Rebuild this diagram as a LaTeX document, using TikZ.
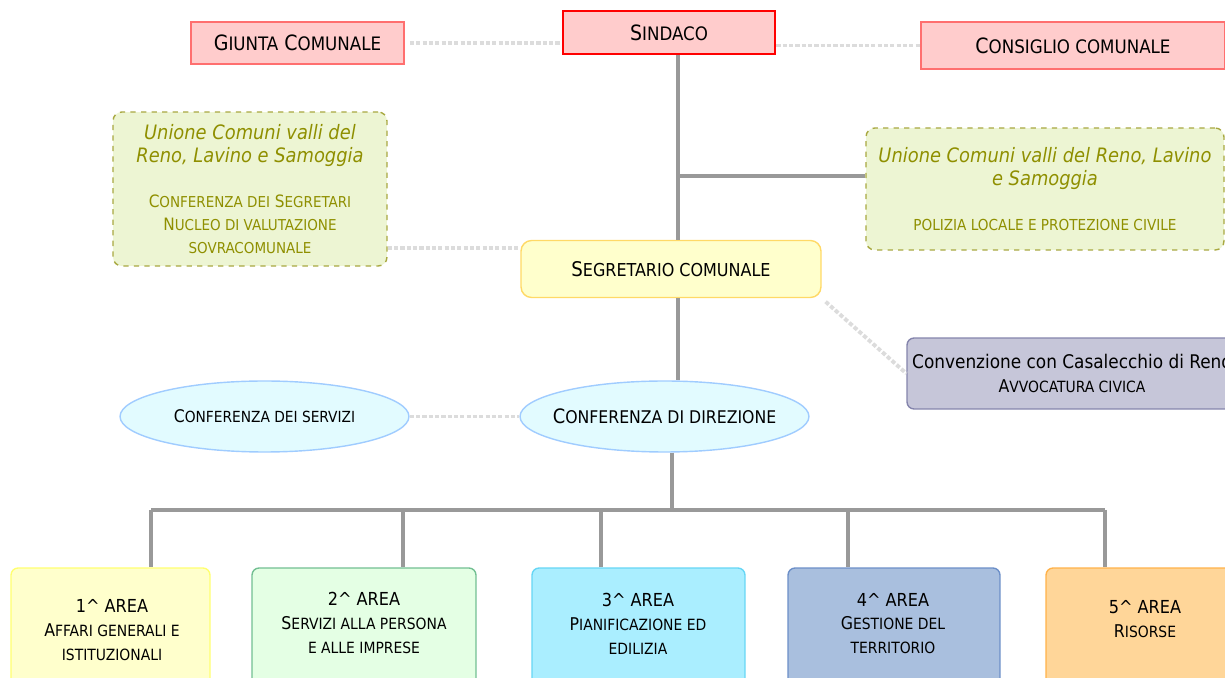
\documentclass[tikz,border=0pt]{standalone}
\usepackage{fontspec}
\usepackage{graphicx}
\usepackage{tikz}
\setmainfont{DejaVu Sans Condensed}
\definecolor{rosa}{HTML}{FFCCCC}
\definecolor{rosabordo}{HTML}{FF6F6F}
\definecolor{rosso}{HTML}{FF0000}
\definecolor{oliva}{HTML}{8F8F00}
\definecolor{olivabordo}{HTML}{A8A840}
\definecolor{unione}{HTML}{EDF5D3}
\definecolor{giallo}{HTML}{FFFFCC}
\definecolor{giallobordo}{HTML}{FFD966}
\definecolor{lilla}{HTML}{C6C6D9}
\definecolor{lillabordo}{HTML}{8484AC}
\definecolor{celeste}{HTML}{E2FBFF}
\definecolor{celestebordo}{HTML}{A0CCFF}
\definecolor{giallodue}{HTML}{FFFF70}
\definecolor{verde}{HTML}{E4FFE4}
\definecolor{verdebordo}{HTML}{72BF92}
\definecolor{ciano}{HTML}{AAEEFF}
\definecolor{cianobordo}{HTML}{66D6F5}
\definecolor{blu}{HTML}{A9BFDE}
\definecolor{blubordo}{HTML}{6C8FC8}
\definecolor{arancio}{HTML}{FFD699}
\definecolor{aranciobordo}{HTML}{FFB24A}
\definecolor{linea}{HTML}{999999}
\definecolor{punti}{HTML}{DCDCDC}
\usetikzlibrary{shapes.geometric,calc}

\newcommand{\smc}[1]{\scalebox{0.88}{\MakeUppercase{#1}}}

\begin{document}
\begin{tikzpicture}[x=0.02cm,y=-0.02cm,
  box/.style={rectangle,inner sep=0pt,align=center},
  grande/.style={font=\fontsize{12}{14}\selectfont},
  tratto/.style={draw=linea,line width=2pt},
  puntini/.style={draw=punti,line width=2.2pt,dash pattern=on 2.4pt off 1.2pt},
  nuvola/.style={ellipse,inner sep=0pt,minimum width=5.78cm,minimum height=1.42cm,
    fill=celeste,draw=celestebordo,line width=0.8pt},
  area/.style={box,rounded corners=4pt,line width=0.8pt,minimum height=2.64cm},
  arealabel/.style={align=center,font=\fontsize{10}{13.6}\selectfont}]
  \clip (0,0) rectangle (1225,678);

  % vertice
  \node[
    box,
    minimum width=4.26cm,
    minimum height=0.84cm,
    fill=rosa,
    draw=rosabordo,
    line width=0.8pt,
    grande] at (297.5,43) (giunta) {G\smc{iunta} C\smc{omunale}};

  \node[
    box,
    minimum width=4.24cm,
    minimum height=0.86cm,
    fill=rosa,
    draw=rosso,
    line width=1.6pt,
    grande] at (669,32.5) (sindaco) {S\smc{indaco}};

  \node[
    box,
    minimum width=6.08cm,
    minimum height=0.94cm,
    fill=rosa,
    draw=rosabordo,
    line width=0.8pt,
    grande] at (1073,45.5) (consiglio) {C\smc{onsiglio comunale}};

  % unioni
  \node[
    box,
    minimum width=5.48cm,
    minimum height=3.08cm,
    fill=unione,
    draw=olivabordo,
    dashed,
    rounded corners=5pt,
    line width=0.8pt,
    text=oliva,
    font=\fontsize{11.3}{13}\selectfont] at (250,189) (unioneL)
    {\textit{Unione Comuni valli del}\\\textit{Reno, Lavino e Samoggia}\\[13pt]
     {\fontsize{9.7}{13}\selectfont C\smc{onferenza dei} S\smc{egretari}}\\
     {\fontsize{9.7}{13}\selectfont N\smc{ucleo di valutazione}}\\
     {\fontsize{9.7}{13}\selectfont\smc{sovracomunale}}};

  \node[
    box,
    minimum width=7.16cm,
    minimum height=2.44cm,
    fill=unione,
    draw=olivabordo,
    dashed,
    rounded corners=5pt,
    line width=0.8pt,
    text=oliva,
    font=\fontsize{11.3}{13}\selectfont] at (1045,189) (unioneR)
    {\textit{Unione Comuni valli del Reno, Lavino}\\\textit{e Samoggia}\\[13pt]
     {\fontsize{9.8}{13}\selectfont\smc{polizia locale e protezione civile}}};

  % segretario
  \node[
    box,
    minimum width=6cm,
    minimum height=1.14cm,
    fill=giallo,
    draw=giallobordo,
    rounded corners=6pt,
    line width=0.8pt,
    font=\fontsize{11.5}{14}\selectfont] at (671,269) (segretario) {S\smc{egretario comunale}};

  \node[
    box,
    minimum width=6.6cm,
    minimum height=1.42cm,
    fill=lilla,
    draw=lillabordo,
    rounded corners=4pt,
    line width=0.8pt,
    font=\fontsize{10.7}{13.6}\selectfont] at (1072,373.5) (convenzione)
    {Convenzione con Casalecchio di Reno\\
     {\fontsize{10}{13.6}\selectfont A\smc{vvocatura civica}}};

  % conferenze
  \node[nuvola] at (264.5,416.5) (servizi) {};
  \node[font=\fontsize{9.9}{11}\selectfont] at (servizi.center) (servizil) {C\smc{onferenza dei servizi}};

  \node[nuvola] at (664.5,416.5) (direzione) {};
  \node[font=\fontsize{11.3}{14}\selectfont] at (direzione.center) (direzionel) {C\smc{onferenza di direzione}};

  % aree
  \node[area,minimum width=3.98cm,fill=giallo,draw=giallodue] at (110.5,634) (a1) {};
  \node[area,minimum width=4.48cm,fill=verde,draw=verdebordo] at (364,634) (a2) {};
  \node[area,minimum width=4.26cm,fill=ciano,draw=cianobordo] at (638.5,634) (a3) {};
  \node[area,minimum width=4.24cm,fill=blu,draw=blubordo] at (894,634) (a4) {};
  \node[area,minimum width=3.96cm,fill=arancio,draw=aranciobordo] at (1145,634) (a5) {};

  \node[arealabel] at (112,630) (a1l)
    {{\fontsize{10.2}{13.6}\selectfont 1\textasciicircum{} AREA}\\A\smc{ffari generali e}\\\smc{istituzionali}};
  \node[arealabel] at (364,623) (a2l)
    {{\fontsize{10.2}{13.6}\selectfont 2\textasciicircum{} AREA}\\S\smc{ervizi alla persona}\\\smc{e alle imprese}};
  \node[arealabel] at (638,623.5) (a3l)
    {{\fontsize{10.2}{13.6}\selectfont 3\textasciicircum{} AREA}\\P\smc{ianificazione ed}\\\smc{edilizia}};
  \node[arealabel] at (893,623.5) (a4l)
    {{\fontsize{10.2}{13.6}\selectfont 4\textasciicircum{} AREA}\\G\smc{estione del}\\\smc{territorio}};
  \node[arealabel] at (1145,619.5) (a5l)
    {{\fontsize{10.2}{13.6}\selectfont 5\textasciicircum{} AREA}\\R\smc{isorse}};

  % collegamenti
  \coordinate (asse) at (678,176);
  \coordinate (bus) at (672,510);
  \draw[tratto] (sindaco.south -| asse) -- (segretario.north -| asse);
  \draw[tratto] (asse) -- (asse -| unioneR.west);
  \draw[tratto] (segretario.south -| asse) -- (direzione.north -| asse);
  \draw[tratto] (direzione.south -| bus) -- (bus);
  \draw[tratto] (bus -| 151,0) -- (bus -| 1105,0);
  \foreach \x/\a in {151/a1,403/a2,601/a3,848/a4,1105/a5}
    \draw[tratto] (\x,510) -- (\a.north -| \x,0);

  \draw[puntini,shorten <=3pt] (giunta.east) -- (giunta.east -| sindaco.west);
  \draw[puntini] (consiglio.west -| sindaco.east) -- (consiglio.west);
  \draw[puntini] ([yshift=-0.16cm]segretario.north west -| unioneL.east) -- ([yshift=-0.16cm]segretario.north west);
  \draw[puntini,shorten <=3pt] (segretario.south east) -- (convenzione.west);
  \draw[puntini] (servizi.east) -- (direzione.west);

\end{tikzpicture}
\end{document}
